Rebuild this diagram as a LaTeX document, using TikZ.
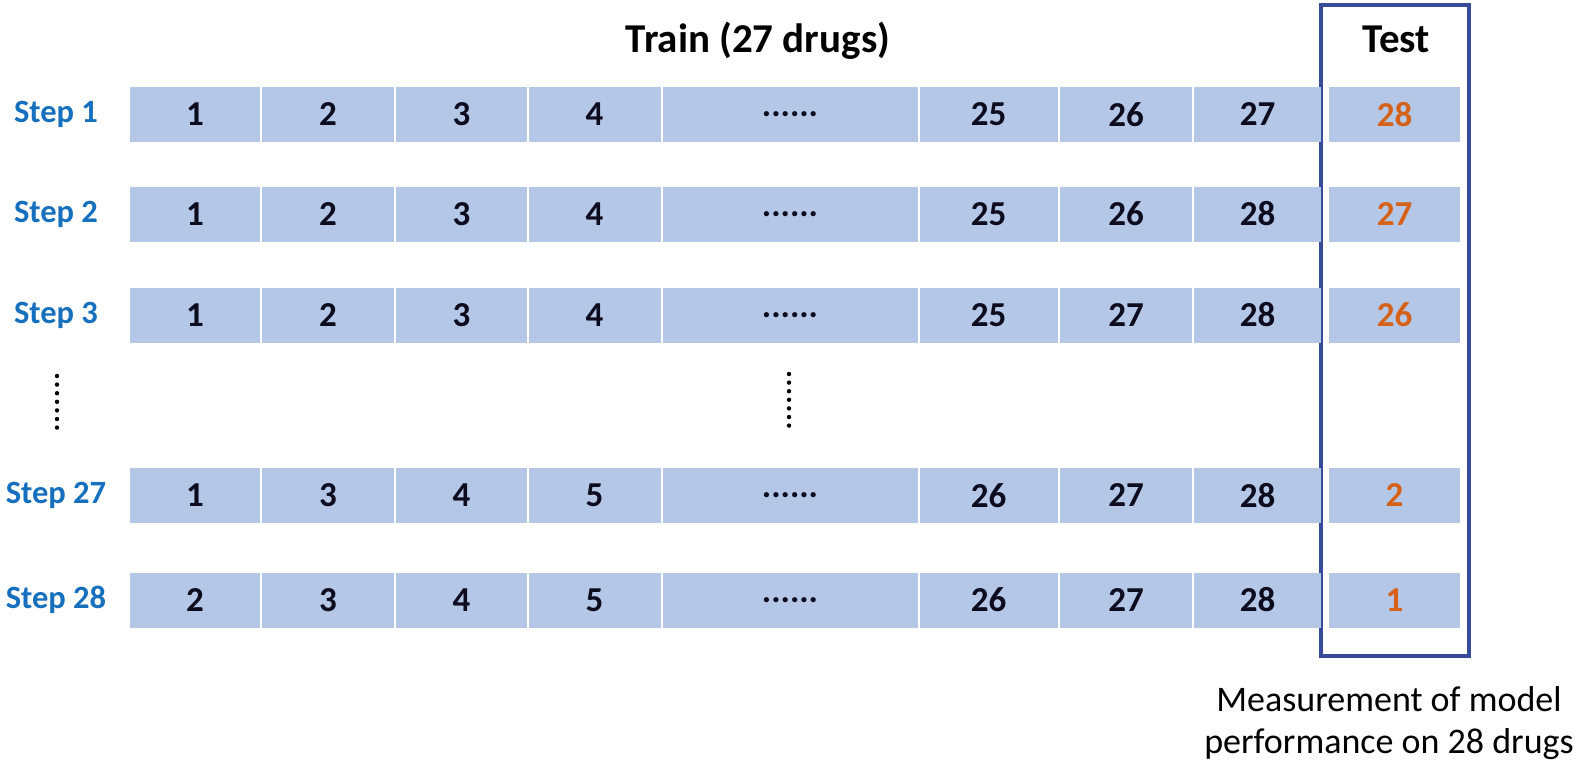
\documentclass[tikz,border=0pt]{standalone}
\usepackage{fontspec}
\setmainfont{Carlito}
\definecolor{cellblue}{RGB}{180,199,231}
\definecolor{steplbl}{RGB}{22,112,190}
\definecolor{testorange}{RGB}{214,98,26}
\definecolor{boxblue}{RGB}{55,75,155}
\definecolor{numtxt}{RGB}{12,12,30}
\newcommand\mysixdots{......}
\begin{document}
\begin{tikzpicture}[x=1pt,y=-1pt,
  cell/.style={fill=cellblue, inner sep=0pt, minimum height=55pt, font=\fontsize{35}{40}\selectfont\bfseries, text=numtxt},
  testcell/.style={cell, text=testorange},
  steplabel/.style={font=\fontsize{32.5}{36}\selectfont\bfseries, text=steplbl, inner sep=0pt},
  heading/.style={font=\fontsize{41}{46}\selectfont\bfseries, text=black, inner sep=0pt},
  note/.style={font=\fontsize{36}{42}\selectfont, align=center, inner sep=0pt},
  vdot/.style={fill=black, draw=none}]
\useasboundingbox (0,0) rectangle (1594,766);
\def\cx{{195,328,461.5,594.5,790,988.5,1126,1257.5}}
\def\cw{{130,132,131,132,255,138,132,127}}
% test box
\node[draw=boxblue, line width=3.5pt, minimum width=148pt, minimum height=651pt, inner sep=0pt] (testbox) at (1395,330.5) {};
% headings
\node[heading] (train) at (758,41) {Train (27 drugs)};
\node[heading] (test) at (1396,39) {Test};
% rows
\foreach \rn/\y/\lbl/\vals/\tv in {
  1/114.5/1/{1,2,3,4,\mysixdots,25,26,27}/28,
  2/214/2/{1,2,3,4,\mysixdots,25,26,28}/27,
  3/315/3/{1,2,3,4,\mysixdots,25,27,28}/26,
  27/495.5/27/{1,3,4,5,\mysixdots,26,27,28}/2,
  28/600/28/{2,3,4,5,\mysixdots,26,27,28}/1}{
  \node[steplabel] (s\rn) at (56,\y) {Step \lbl};
  \foreach \v [count=\i from 0] in \vals {
    \pgfmathsetmacro\xx{\cx[\i]}
    \pgfmathsetmacro\ww{\cw[\i]}
    \node[cell, minimum width=\ww pt] (r\rn c\i) at (\xx,\y) {\v};
  }
  \node[testcell, minimum width=131pt] (r\rn t) at (1394.5,\y) {\tv};
}
% vertical ellipsis dots
\foreach \k in {0,1,2,3,4,5,6}{
  \fill[vdot] (57,376+8.6*\k) circle (2.2);
  \fill[vdot] (789,374+8.6*\k) circle (2.2);
}
% note
\node[note] (meas) at (1389,723) {Measurement of model\\performance on 28 drugs};
\end{tikzpicture}
\end{document}
